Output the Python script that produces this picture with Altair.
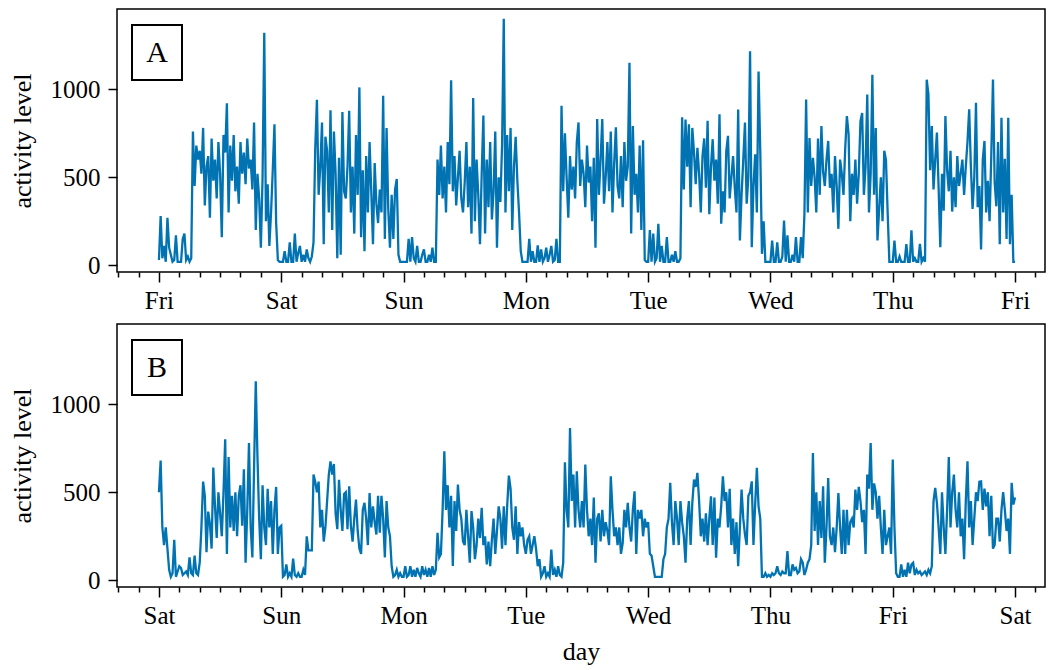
import json
import altair as alt
import pandas as pd

# ---------------- data (20-minute samples) ----------------
DAYS_A = ["Fri", "Sat", "Sun", "Mon", "Tue", "Wed", "Thu", "Fri"]
DAYS_B = ["Sat", "Sun", "Mon", "Tue", "Wed", "Thu", "Fri", "Sat"]

A_FRI = [30, 280, 40, 110, 20, 270, 100, 60, 20, 30, 170, 20, 20, 20, 150, 180, 30, 50, 20, 40,
         760, 450, 680, 600, 650, 520, 780, 340, 560, 620, 270, 720, 480, 600, 380, 700, 520, 160, 740, 640,
         920, 300, 680, 480, 740, 420, 560, 350, 700, 520, 640, 460, 720, 550, 600, 430, 810,
         200, 520, 380, 100, 500, 1320, 250, 460, 110, 300, 540, 800, 240, 30, 20]
A_SAT = [20, 20, 80, 20, 20, 130, 20, 20, 180, 20, 70, 110, 20, 60, 20, 90, 40, 20, 50, 130,
         660, 940, 400, 560, 810, 120, 730, 650, 300, 880, 200, 760, 520, 40, 610, 60, 870, 420, 380, 560,
         877, 300, 560, 180, 740, 400, 1010, 160, 540, 80, 620, 300, 700, 420, 120, 580, 350, 240,
         430, 300, 962, 150, 780, 320, 100, 400, 150, 430, 490, 60, 20, 20]
A_SUN = [20, 20, 20, 150, 20, 160, 40, 20, 110, 20, 20, 60, 90, 20, 20, 60, 20, 100, 20, 20,
         600, 400, 680, 380, 560, 300, 700, 460, 1050, 420, 620, 340, 500, 650, 380, 300, 470, 700, 330, 560,
         180, 950, 250, 600, 400, 120, 520, 850, 180, 600, 330, 700, 260, 420, 760, 100, 500, 360,
         680, 1400, 300, 740, 420, 780, 200, 560, 730, 480, 300, 80, 20, 20]
A_MON = [20, 20, 150, 20, 80, 20, 20, 113, 20, 90, 20, 40, 100, 20, 60, 110, 20, 30, 150, 20, 20,
         905, 420, 750, 500, 270, 620, 430, 560, 380, 700, 811, 450, 600, 520, 330, 680, 470, 560, 250, 610,
         100, 830, 400, 600, 830, 350, 500, 700, 420, 760, 300, 580, 783, 450, 380, 620, 330, 700, 480, 560,
         1150, 180, 790, 400, 520, 300, 680, 200, 710, 30, 20]
A_TUE = [20, 200, 20, 180, 20, 40, 236, 20, 110, 20, 20, 160, 20, 20, 60, 20, 80, 20, 20, 40,
         840, 430, 828, 560, 800, 330, 780, 640, 460, 667, 520, 300, 620, 720, 440, 820, 290, 560, 716, 480,
         600, 350, 857, 236, 420, 300, 650, 735, 380, 500, 620, 440, 300, 885, 141, 400, 600, 810, 350, 500,
         1215, 103, 450, 630, 300, 1100, 650, 65, 250, 20, 20, 20]
A_WED = [20, 141, 20, 20, 130, 20, 20, 50, 254, 20, 170, 20, 20, 60, 20, 160, 20, 20, 160, 40,
         290, 941, 300, 723, 450, 610, 500, 300, 720, 400, 790, 530, 450, 600, 706, 440, 520, 300, 620, 450,
         207, 600, 520, 400, 660, 847, 744, 250, 520, 400, 600, 350, 520, 819, 865, 400, 560, 969, 300, 520,
         1082, 400, 780, 141, 320, 500, 250, 650, 600, 300, 20, 20]
A_THU = [20, 141, 20, 20, 50, 20, 20, 20, 120, 20, 20, 198, 20, 40, 20, 20, 122, 20, 40, 20,
         1054, 970, 540, 790, 430, 600, 754, 440, 102, 520, 310, 847, 540, 420, 650, 305, 500, 330, 620, 450,
         520, 600, 400, 560, 700, 885, 560, 320, 500, 922, 330, 450, 90, 600, 706, 300, 480, 250, 620, 1054,
         470, 335, 700, 120, 838, 300, 605, 150, 838, 120, 400, 20]
A_END = 20

B_SAT = [500, 680, 300, 200, 300, 180, 60, 20, 40, 230,
         20, 50, 80, 70, 30, 40, 50, 30, 130, 40,
         30, 140, 40, 30, 100, 300, 560, 480, 160, 390,
         320, 180, 640, 420, 240, 500, 380, 250, 500, 800,
         150, 700, 300, 480, 280, 500, 250, 480, 540, 310,
         630, 100, 400, 780, 300, 130, 640, 1130, 700, 350,
         120, 540, 300, 200, 520, 300, 450, 150, 400, 530,
         150, 300]
B_SUN = [310, 20, 30, 90, 20, 40, 20, 123, 30, 20, 40, 20, 20, 60, 30, 250,
         170, 170, 170, 600, 560, 500, 560, 300, 400, 220, 300, 450, 600, 675,
         600, 660, 380, 290, 570, 400, 280, 490, 500, 290, 534, 307, 220, 350, 458, 280,
         180, 150, 400, 440, 350, 200, 496, 300, 420, 330, 260, 480, 270, 480, 350, 130, 450, 300, 250, 80,
         20, 30, 60, 20, 40, 20]
B_MON = [20, 80, 20, 30, 80, 20, 60, 20, 70, 40, 20, 80, 30, 60, 20, 70, 20, 80, 30, 60,
         270, 130, 150, 400, 732, 400, 540, 300, 480, 81, 450, 280, 543, 400, 350, 220, 200, 400, 250, 100,
         393, 300, 120, 200, 350, 240, 411, 200, 250, 90, 220, 80, 230, 350, 150, 280, 420, 350, 180, 420,
         200, 420, 594, 520, 300, 230, 420, 150, 330, 250, 300, 200]
B_TUE = [150, 230, 250, 150, 200, 250, 180, 80, 120,
         20, 40, 80, 20, 40, 20, 175, 30, 60, 20, 80, 30, 20,
         100, 670, 400, 300, 864, 450, 600, 300, 619, 400, 300, 450, 300, 657, 400, 250, 350, 200, 470,
         100, 350, 380, 220, 400, 250, 330, 280, 200, 590, 400, 250, 300, 200, 300, 150, 210, 400, 300, 440,
         300, 220, 400, 505, 150, 400, 350, 400, 250, 350, 300]
B_WED = [330, 150, 140, 80, 20, 20, 20, 20, 20, 120, 150, 300,
         350, 553, 330, 200, 450, 350, 200, 450, 330, 250, 100, 350, 450, 200, 440, 572, 530, 610,
         450, 250, 350, 220, 380, 200, 350, 477, 200, 470, 128, 350, 300, 420, 590, 450, 500, 300, 520, 200,
         350, 150, 330, 80, 300, 515, 350, 260, 200, 480, 500, 562, 200, 430, 638, 420, 350, 20, 20, 40, 20, 30]
B_THU = [20, 40, 30, 40, 80, 40, 30, 50, 40, 40, 166, 30, 30, 90, 60, 70, 40, 50, 120, 100, 30, 60, 100, 120,
         200, 723, 280, 500, 200, 450, 240, 534, 100, 300, 581, 250, 200, 300, 160, 300, 496, 300, 150, 400, 150, 400, 200, 330,
         350, 300, 515, 400, 530, 450, 330, 400, 150, 600, 520, 779, 400, 550, 500, 350, 480, 300, 150, 400, 200, 250, 300, 150]
B_FRI = [685, 300, 40, 20, 20, 90, 20, 60, 20, 100, 40, 90, 100, 30, 60, 40, 50, 30, 40, 50, 30, 60, 40, 80,
         449, 525, 440, 300, 150, 500, 300, 150, 400, 700, 300, 500, 600, 400, 300, 500, 250, 350, 120, 450, 675, 300, 450, 200,
         350, 500, 450, 560, 562, 400, 520, 420, 500, 250, 480, 180, 200, 350, 350, 220, 400, 500, 400, 280, 350, 150, 553, 430]
B_END = 470

SERIES_A = [A_FRI, A_SAT, A_SUN, A_MON, A_TUE, A_WED, A_THU]
SERIES_B = [B_SAT, B_SUN, B_MON, B_TUE, B_WED, B_THU, B_FRI]

Y_TICKS = [0, 500, 1000]

# ---------------- style ----------------
FONT = "Liberation Serif"
BLUE = "#0173B2"
W, H = 928, 263
PX_PER_DAY = 122.3
X_DOMAIN = [-0.343, -0.343 + W / PX_PER_DAY]
Y_DOMAIN = [-38, 1455]
PAD = {"left": 0, "top": 0, "right": 0, "bottom": 0}


def build(days, end):
    rows = []
    for d, vals in enumerate(days):
        n = len(vals)
        for j, v in enumerate(vals):
            rows.append({"t": d + j / n, "v": v})
    rows.append({"t": float(len(days)), "v": end})
    return pd.DataFrame(rows)


tick_vals = [k / 6 for k in range(-2, 44)]


def panel(df, names, label, xtitle):
    label_expr = ("datum.value % 1 === 0 ? " + json.dumps(names)
                  + "[round(datum.value)] : ''")
    xaxis = alt.Axis(
        values=tick_vals, labelExpr=label_expr,
        tickSize={"condition": {"test": "datum.value % 1 === 0", "value": 10}, "value": 5},
        tickWidth=1.5, tickColor="black", domain=False, grid=False,
        labelFont=FONT, labelFontSize=25, labelColor="black", labelPadding=6,
        labelOverlap=False, labelFlush=False,
        titleFont=FONT, titleFontSize=26, titleFontWeight="normal", titleColor="black",
        titlePadding=10,
    )
    x = alt.X("t:Q", scale=alt.Scale(domain=X_DOMAIN, nice=False, zero=False), axis=xaxis)
    x = x.title(xtitle) if xtitle else x.title(None)
    y = alt.Y(
        "v:Q", title="activity level",
        scale=alt.Scale(domain=Y_DOMAIN, nice=False, zero=False),
        axis=alt.Axis(
            values=Y_TICKS, format="d", tickSize=9, tickWidth=1.5, tickColor="black",
            domain=False, grid=False,
            labelFont=FONT, labelFontSize=25, labelColor="black", labelPadding=8,
            titleFont=FONT, titleFontSize=26, titleFontWeight="normal", titleColor="black",
            titlePadding=15,
        ),
    )
    line = alt.Chart(df).mark_line(color=BLUE, strokeWidth=2.3, clip=True).encode(x=x, y=y)
    lab = pd.DataFrame({"lab": [label]})
    box = alt.Chart(lab).mark_rect(fill="white", stroke="black", strokeWidth=2).encode(
        x=alt.value(15), x2=alt.value(65), y=alt.value(16), y2=alt.value(71))
    txt = alt.Chart(lab).mark_text(font=FONT, fontSize=30, color="black",
                                   align="center", baseline="middle").encode(
        x=alt.value(40), y=alt.value(44), text="lab:N")
    return alt.layer(line, box, txt).properties(width=W, height=H)


pa = panel(build(SERIES_A, A_END), DAYS_A, "A", None)
pb = panel(build(SERIES_B, B_END), DAYS_B, "B", "day")

chart = (
    alt.vconcat(pa, pb, spacing=9)
    .properties(padding=PAD)
    .configure(background="white", padding=PAD)
    .configure_view(stroke="black", strokeWidth=1.5)
)

chart.save("out.html", embed_options={"renderer": "svg", "actions": False})
